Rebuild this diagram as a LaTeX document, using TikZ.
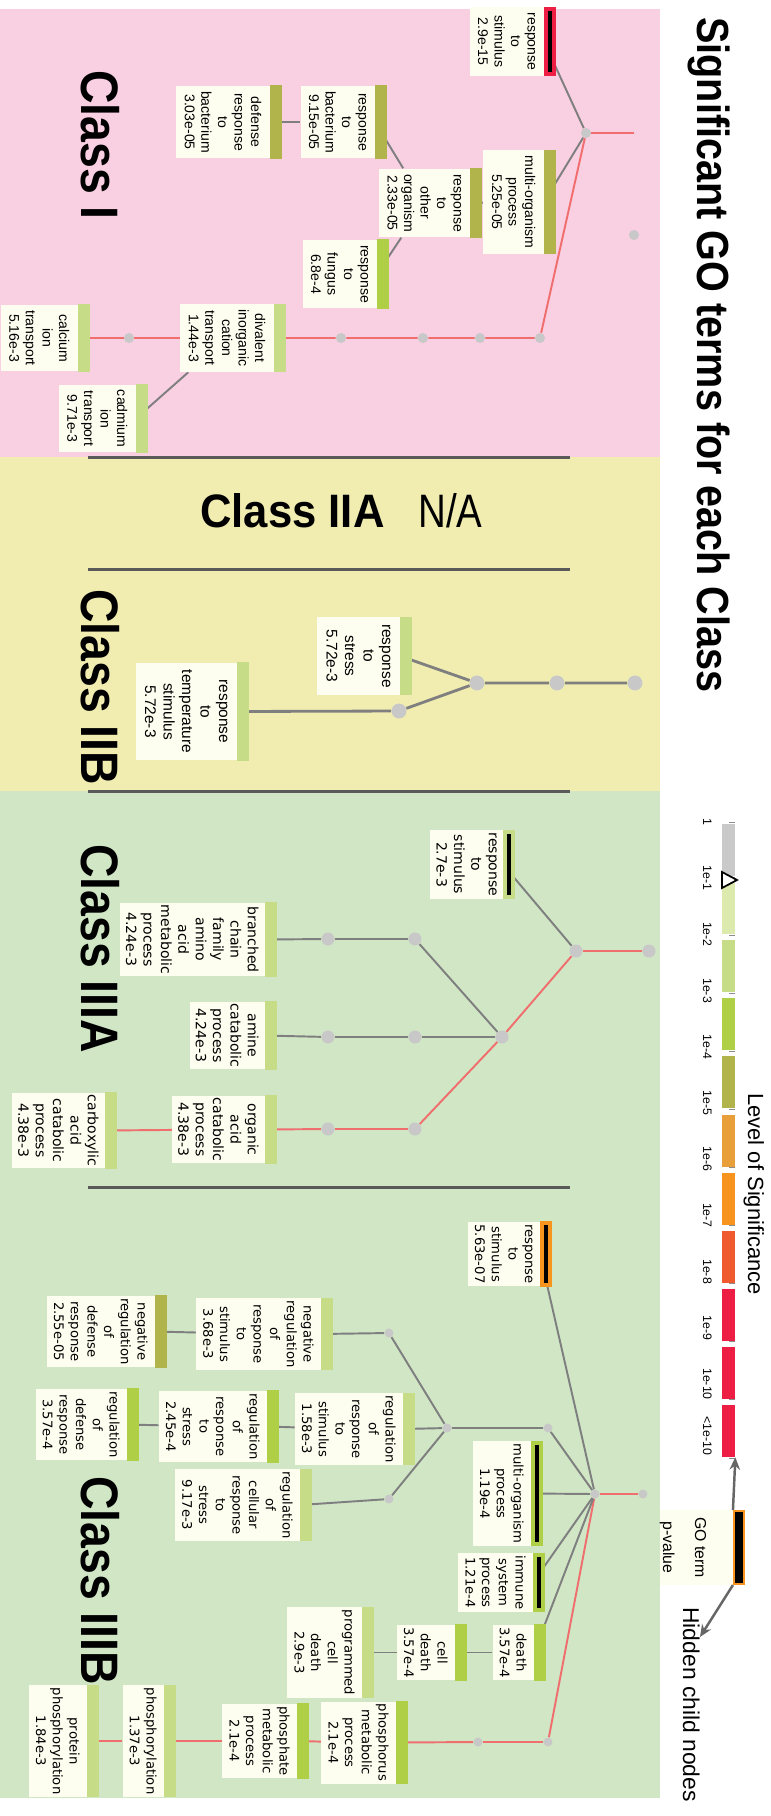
\documentclass[tikz,border=0pt]{standalone}
\usepackage{fontspec}
\usepackage{graphicx}
\setmainfont{Liberation Sans}
\newfontfamily\dejavu{DejaVu Sans}
\usetikzlibrary{calc,arrows.meta}

\definecolor{termbg}{HTML}{FDFDF0}
\definecolor{panelI}{HTML}{F9CFE2}
\definecolor{panelII}{HTML}{F1ECB0}
\definecolor{panelIII}{HTML}{D0E6C5}
\definecolor{edgegray}{HTML}{7F7F7F}
\definecolor{edgered}{HTML}{F06E6E}
\definecolor{hubgray}{HTML}{C8C8C8}
\definecolor{rulegray}{HTML}{5A5A5A}
\definecolor{pGray}{HTML}{C9C9C9}
\definecolor{pPale}{HTML}{DDEAAE}
\definecolor{pLight}{HTML}{C6DC87}
\definecolor{pGreen}{HTML}{AFCF47}
\definecolor{pOlive}{HTML}{B0B44A}
\definecolor{pTan}{HTML}{E89F3A}
\definecolor{pOrange}{HTML}{F7941E}
\definecolor{pOrRed}{HTML}{EF5A2E}
\definecolor{pRed}{HTML}{ED1D43}

\pgfdeclarelayer{panel}
\pgfdeclarelayer{edges}
\pgfsetlayers{panel,edges,main}

\tikzset{
  term/.style={fill=termbg, align=center, anchor=north, inner xsep=3.1pt, inner ysep=4.8pt,
    font=\fontsize{8}{9.4}\selectfont},
  termIIB/.style={term, inner xsep=4pt, inner ysep=5.3pt, font=\fontsize{8.8}{10.5}\selectfont},
  termIIIA/.style={term, inner xsep=1.2pt, inner ysep=3.4pt, font=\dejavu\fontsize{8}{9.9}\selectfont},
  termIIIB/.style={term, inner xsep=1.4pt, inner ysep=4pt, font=\dejavu\fontsize{7.5}{9.5}\selectfont},
  hub/.style={circle, fill=hubgray, inner sep=0pt, minimum size=#1},
  hub/.default=5.7pt,
  gline/.style={draw=edgegray, line width=1.1pt},
  rline/.style={draw=edgered, line width=1.1pt},
  classname/.style={anchor=base west, inner sep=0pt, font=\bfseries\fontsize{30}{32}\selectfont},
  keylabel/.style={anchor=base, inner sep=0pt, font=\fontsize{7}{8}\selectfont},
  keyarrow/.style={draw=black!60, line width=1.4pt, -{Stealth[length=7pt,width=6pt]}},
}

% caja de termino GO con su barra de color
\newcommand{\goterm}[5][term]{%
  \node[#1] (#2) at (#3) {#5};
  \fill[#4] (#2.north west) rectangle ($(#2.north east)+(0,12)$);
}
\newcommand{\hiddenkids}[1]{%
  \draw[line width=2pt] ($(#1.north west)+(4,6)$) -- ($(#1.north east)+(-4,6)$);
}

\begin{document}
\begin{tikzpicture}[x=0.02cm, y=0.02cm, rotate=-90, transform shape]
    \useasboundingbox (0,0) rectangle (1816,771);

    % Fondos
    \begin{pgfonlayer}{panel}
    \fill[panelI] (9,0) rectangle (457,660);
    \fill[panelII] (457,0) rectangle (791,660);
    \fill[panelIII] (791,0) rectangle (1798,660);
    \foreach \s in {457,569,791,1187}
        \draw[rulegray, line width=1.7pt] (\s,88) -- (\s,570);
    \end{pgfonlayer}

    % Titulo y clases
    \node[anchor=base west, inner sep=0pt, font=\bfseries\fontsize{25.6}{28}\selectfont] (title) at (17,697)
        {\scalebox{0.88}[1]{Significant GO terms for each Class}};
    \node[classname] (nameI) at (70,81) {\scalebox{0.88}[1]{Class I}};
    \node[classname, rotate=90, font=\bfseries\fontsize{26.7}{30}\selectfont] (nameIIA) at (527,200)
        {\scalebox{0.93}[1]{Class IIA}};
    \node[anchor=base west, inner sep=0pt, rotate=90, font=\fontsize{26.7}{30}\selectfont] (naIIA) at (527,418)
        {\scalebox{0.82}[1]{N/A}};
    \node[classname] (nameIIB) at (589,81) {\scalebox{0.88}[1]{Class IIB}};
    \node[classname] (nameIIIA) at (844,81) {\scalebox{0.88}[1]{Class IIIA}};
    \node[classname] (nameIIIB) at (1476,81) {\scalebox{0.88}[1]{Class IIIB}};

    % Clase I
    \goterm{stimI}{41.5,544}{pRed}{response\\to\\stimulus\\2.9e-15}
    \hiddenkids{stimI}
    \goterm{multiI}{202,544}{pOlive}{multi-organism\\process\\5.25e-05}
    \goterm{otherI}{203,470}{pOlive}{response\\to\\other\\organism\\2.33e-05}
    \goterm{bactI}{122,375}{pOlive}{response\\to\\bacterium\\9.15e-05}
    \goterm{defbactI}{122,270}{pOlive}{defense\\response\\to\\bacterium\\3.03e-05}
    \goterm{fungusI}{274,377}{pGreen}{response\\to\\fungus\\6.8e-4}
    \goterm{divalI}{338,274}{pLight}{divalent\\inorganic\\cation\\transport\\1.44e-3}
    \goterm{calcI}{338,78}{pLight}{calcium\\ion\\transport\\5.16e-3}
    \goterm{cadmI}{418.5,136}{pLight}{cadmium\\ion\\transport\\9.71e-3}
    \node[hub] (jI) at (133,586) {};
    \coordinate (rootI) at (133,634);
    \node[hub] (loneI) at (235,634) {};
    \foreach \n/\p in {aI/540, bI/480, cI/423, dI/341, eI/129}
        \node[hub] (\n) at (338,\p) {};

    % Clase IIB
    \goterm[termIIB]{stressIIB}{656,400}{pLight}{response\\to\\stress\\5.72e-3}
    \goterm[termIIB]{tempIIB}{711.5,237}{pLight}{response\\to\\temperature\\stimulus\\5.72e-3}
    \node[hub=8.5pt] (rootIIB) at (683,635) {};
    \node[hub=8.5pt] (aIIB) at (683,557) {};
    \node[hub=8.5pt] (jIIB) at (683,477) {};
    \node[hub=8.5pt] (bIIB) at (711,399) {};

    % Clase IIIA
    \goterm[termIIIA]{stimIIIA}{864.5,503}{pLight}{response\\to\\stimulus\\2.7e-3}
    \hiddenkids{stimIIIA}
    \goterm[termIIIA]{branchIIIA}{939.5,265}{pLight}{branched\\chain\\family\\amino\\acid\\metabolic\\process\\4.24e-3}
    \goterm[termIIIA]{amineIIIA}{1035.5,265}{pLight}{amine\\catabolic\\process\\4.24e-3}
    \goterm[termIIIA]{organicIIIA}{1129.5,265}{pLight}{organic\\acid\\catabolic\\process\\4.38e-3}
    \goterm[termIIIA]{carboxIIIA}{1130.5,105}{pLight}{carboxylic\\acid\\catabolic\\process\\4.38e-3}
    \node[hub=7.4pt] (rootIIIA) at (951,649) {};
    \node[hub=7.4pt] (jIIIA) at (951,576) {};
    \node[hub=7.4pt] (kIIIA) at (1037,502) {};
    \foreach \n/\x/\y in {aIIIA/939/415, bIIIA/939/328, cIIIA/1037/415, dIIIA/1037/328, eIIIA/1129/415, fIIIA/1129/328}
        \node[hub=7.4pt] (\n) at (\x,\y) {};

    % Clase IIIB
    \goterm[termIIIB]{stimIIIB}{1254,540}{pOrange}{response\\to\\stimulus\\5.63e-07}
    \hiddenkids{stimIIIB}
    \goterm[termIIIB]{negstimIIIB}{1334,321}{pLight}{negative\\regulation\\of\\response\\to\\stimulus\\3.68e-3}
    \goterm[termIIIB]{negdefIIIB}{1331.5,155}{pOlive}{negative\\regulation\\of\\defense\\response\\2.55e-05}
    \goterm[termIIIB]{regstimIIIB}{1429,403}{pLight}{regulation\\of\\response\\to\\stimulus\\1.58e-3}
    \goterm[termIIIB]{regstressIIIB}{1426.5,267}{pGreen}{regulation\\of\\response\\to\\stress\\2.45e-4}
    \goterm[termIIIB]{regdefIIIB}{1424.5,127}{pGreen}{regulation\\of\\defense\\response\\3.57e-4}
    \goterm[termIIIB]{regcellIIIB}{1505,300}{pLight}{regulation\\of\\cellular\\response\\to\\stress\\9.17e-3}
    \goterm[termIIIB]{multiIIIB}{1493.5,531}{pGreen}{multi-organism\\process\\1.19e-4}
    \hiddenkids{multiIIIB}
    \goterm[termIIIB]{immuneIIIB}{1582.5,533}{pGreen}{immune\\system\\process\\1.21e-4}
    \hiddenkids{immuneIIIB}
    \goterm[termIIIB]{deathIIIB}{1652.5,534}{pGreen}{death\\3.57e-4}
    \goterm[termIIIB]{celldeathIIIB}{1652.5,455}{pGreen}{cell\\death\\3.57e-4}
    \goterm[termIIIB]{progdeathIIIB}{1652.5,362}{pLight}{programmed\\cell\\death\\2.9e-3}
    \goterm[termIIIB]{phosphorusIIIB}{1742.5,396}{pGreen}{phosphorus\\metabolic\\process\\2.1e-4}
    \goterm[termIIIB]{phosphateIIIB}{1741,297}{pGreen}{phosphate\\metabolic\\process\\2.1e-4}
    \goterm[termIIIB]{phosphoIIIB}{1741,164}{pLight}{phosphorylation\\1.37e-3}
    \goterm[termIIIB]{protphosIIIB}{1741,87}{pLight}{protein\\phosphorylation\\1.84e-3}
    \foreach \n/\x/\y in {rootIIIB/1494/643, jIIIB/1494/595, aIIIB/1428/548, bIIIB/1428/447,
                          cIIIB/1333/389, dIIIB/1499/389, eIIIB/1742/548, fIIIB/1742/478}
        \node[hub=5.1pt] (\n) at (\x,\y) {};

    % Conexiones
    \begin{pgfonlayer}{edges}
    \draw[rline] (jI) -- (rootI);
    \draw[gline] (jI) -- (stimI.north);
    \draw[gline] (jI) -- (multiI.north);
    \draw[gline] (multiI) -- (otherI.north);
    \draw[gline] (otherI) -- (bactI.north);
    \draw[gline] (otherI) -- (fungusI.north);
    \draw[gline] (bactI) -- (defbactI.north);
    \draw[rline] (jI) -- (aI) -- (bI) -- (cI) -- (dI) -- (divalI.north);
    \draw[rline] (divalI) -- (eI) -- (calcI.north);
    \draw[gline] (divalI) -- (cadmI.north);

    \draw[gline, line width=1.6pt] (rootIIB) -- (aIIB) -- (jIIB) -- (stressIIB.north);
    \draw[gline, line width=1.6pt] (jIIB) -- (bIIB) -- (tempIIB.north);

    \draw[rline] (rootIIIA) -- (jIIIA) -- (kIIIA) -- (eIIIA) -- (fIIIA) -- (organicIIIA.north);
    \draw[rline] (organicIIIA) -- (carboxIIIA.north);
    \draw[gline] (jIIIA) -- (stimIIIA.north);
    \draw[gline] (kIIIA) -- (aIIIA) -- (bIIIA) -- (branchIIIA.north);
    \draw[gline] (kIIIA) -- (cIIIA) -- (dIIIA) -- (amineIIIA.north);

    \draw[rline] (rootIIIB) -- (jIIIB) -- (eIIIB) -- (fIIIB) -- (phosphorusIIIB.north);
    \draw[rline] (phosphorusIIIB) -- (phosphateIIIB.north);
    \draw[rline] (phosphateIIIB) -- (phosphoIIIB.north);
    \draw[rline] (phosphoIIIB) -- (protphosIIIB.north);
    \draw[gline] (jIIIB) -- (stimIIIB.north);
    \draw[gline] (jIIIB) -- (aIIIB) -- (bIIIB) -- (cIIIB) -- (negstimIIIB.north);
    \draw[gline] (negstimIIIB) -- (negdefIIIB.north);
    \draw[gline] (bIIIB) -- (regstimIIIB.north);
    \draw[gline] (regstimIIIB) -- (regstressIIIB.north);
    \draw[gline] (regstressIIIB) -- (regdefIIIB.north);
    \draw[gline] (bIIIB) -- (dIIIB) -- (regcellIIIB.north);
    \draw[gline] (jIIIB) -- (multiIIIB.north);
    \draw[gline] (jIIIB) -- (immuneIIIB.north);
    \draw[gline] (jIIIB) -- (deathIIIB.north);
    \draw[gline] (deathIIIB) -- (celldeathIIIB.north);
    \draw[gline] (celldeathIIIB) -- (progdeathIIIB.north);
    \end{pgfonlayer}

    % Leyenda
    \foreach \c [count=\i from 0] in {pGray,pPale,pLight,pGreen,pOlive,pTan,pOrange,pOrRed,pRed,pRed,pRed}
        \node[fill=\c, minimum width=1.04cm, minimum height=0.26cm, inner sep=0pt] (seg\i) at ({850+58.1*\i},728.5) {};
    \draw[black!45, line width=0.5pt] (822,729) -- ++(0,6);
    \foreach \i in {0,...,10}
        \draw[black!45, line width=0.5pt] ({877+58.1*\i},729) -- ++(0,6);
    \foreach \t [count=\i from 0] in {1,1e-1,1e-2,1e-3,1e-4,1e-5,1e-6,1e-7,1e-8,1e-9,1e-10}
        \node[keylabel] (tick\i) at ({822+56.2*\i},703) {\t};
    \node[keylabel] (tick11) at (1436,703) {\textless1e-10};
    \draw[fill=white, line width=1pt] (872,722) -- (888,722) -- (880,737) -- cycle;
    \node[anchor=base west, inner sep=0pt, font=\fontsize{12.5}{14}\selectfont] (levelsig) at (1093,748) {Level of Significance};

    \node[fill=termbg, minimum width=1.5cm, minimum height=1.46cm, inner sep=0pt] (keybox) at (1547.5,696.5) {};
    \node[draw=pOrange, fill=black, line width=1.2pt, minimum width=1.46cm, minimum height=0.2cm, inner sep=0pt] (keybar) at (1547.5,739) {};
    \node[anchor=base, inner sep=0pt, font=\fontsize{9}{10}\selectfont] (keyterm) at (1547.5,695) {GO term};
    \node[anchor=base, inner sep=0pt, font=\fontsize{9}{10}\selectfont] (keypval) at (1547.5,663) {p-value};
    \node[anchor=base west, inner sep=0pt, font=\fontsize{13}{15}\selectfont] (hidden) at (1607,683) {Hidden child nodes};
    \coordinate (hiddentip) at (1637,700);
    \draw[keyarrow] (keybar.south west) -- (seg10.north east);
    \draw[keyarrow] (keybar.south east) -- (hiddentip);
\end{tikzpicture}
\end{document}
